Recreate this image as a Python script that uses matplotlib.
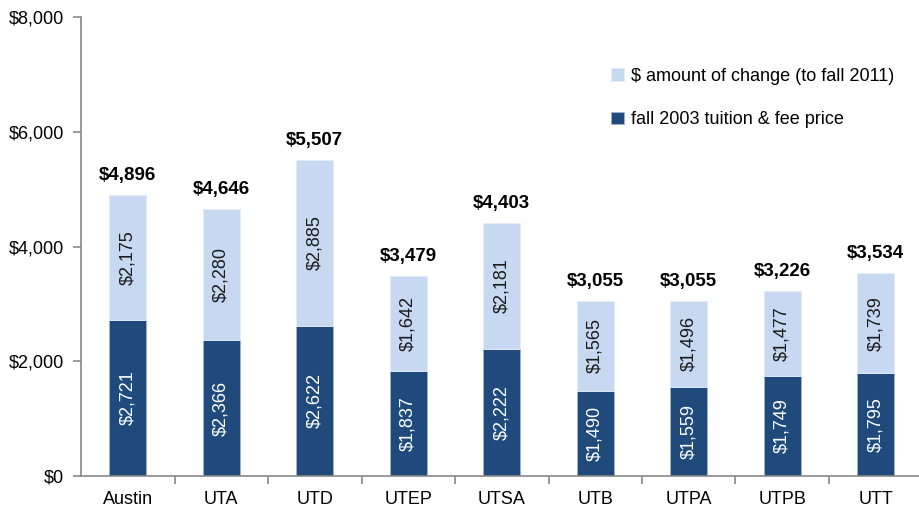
import matplotlib
matplotlib.use("Agg")
import matplotlib.pyplot as plt
from matplotlib import font_manager

categories = ["Austin", "UTA", "UTD", "UTEP", "UTSA", "UTB", "UTPA", "UTPB", "UTT"]
base_2003 = [2721, 2366, 2622, 1837, 2222, 1490, 1559, 1749, 1795]
change_2011 = [2175, 2280, 2885, 1642, 2181, 1565, 1496, 1477, 1739]
totals = [4896, 4646, 5507, 3479, 4403, 3055, 3055, 3226, 3534]
yticks = [0, 2000, 4000, 6000, 8000]
legend_labels = ["$ amount of change (to fall 2011)", "fall 2003 tuition & fee price"]

avail = {f.name for f in font_manager.fontManager.ttflist}
fam = ["Liberation Sans Narrow", "Liberation Sans", "DejaVu Sans"]
fam = [f for f in fam if f in avail] or ["DejaVu Sans"]
plt.rcParams["font.family"] = fam

dark = "#204A7C"
light = "#C6D9F1"

W, H = 919, 514
fig = plt.figure(figsize=(W / 100, H / 100), dpi=100)
left_px, right_px, top_px, bot_px = 81, 81 + 9 * 93.5, 17, 476
ax = fig.add_axes([left_px / W, (H - bot_px) / H, (right_px - left_px) / W, (bot_px - top_px) / H])

x = list(range(len(categories)))
bw = 0.4
b1 = ax.bar(x, base_2003, bw, color=dark, edgecolor="#9FB3CC", linewidth=0.6, label=legend_labels[1], zorder=2)
b2 = ax.bar(x, change_2011, bw, bottom=base_2003, color=light, edgecolor="#E5EDF8", linewidth=0.6, label=legend_labels[0], zorder=2)

for i in x:
    ax.text(i, base_2003[i] / 2, f"${base_2003[i]:,}", rotation=90, ha="center", va="center",
            color="white", fontsize=13)
    ax.text(i, base_2003[i] + change_2011[i] / 2, f"${change_2011[i]:,}", rotation=90, ha="center",
            va="center", color="#1a1a1a", fontsize=13)
    ax.annotate(f"${totals[i]:,}", (i, totals[i]), xytext=(0, 8), textcoords="offset points",
                ha="center", va="bottom", fontsize=13.5, fontweight="bold", color="black")

ax.set_xlim(-0.5, len(categories) - 0.5)
ax.set_ylim(0, 8000)
ax.set_yticks(yticks)
ax.set_yticklabels([f"${v:,}" for v in yticks], fontsize=13)
ax.set_xticks(x)
ax.set_xticklabels(categories, fontsize=13)
ax.tick_params(axis="x", length=0, pad=11)
ax.set_xticks([i + 0.5 for i in x], minor=True)
ax.tick_params(axis="x", which="minor", length=6, color="#888888", width=1.2, direction="out")
ax.tick_params(axis="y", length=6, color="#888888", width=1.2, direction="out", pad=6)
for s in ["top", "right"]:
    ax.spines[s].set_visible(False)
for s in ["left", "bottom"]:
    ax.spines[s].set_color("#888888")
    ax.spines[s].set_linewidth(1.2)

ax.legend(handles=[b2, b1], labels=legend_labels, loc="upper left", bbox_to_anchor=(611 / W, 1 - 68 / H),
          bbox_transform=fig.transFigure, frameon=False, fontsize=13, handlelength=0.7, handleheight=0.7,
          handletextpad=0.4, labelspacing=1.45, borderpad=0, borderaxespad=0)

fig.savefig("out.png", dpi=100)
